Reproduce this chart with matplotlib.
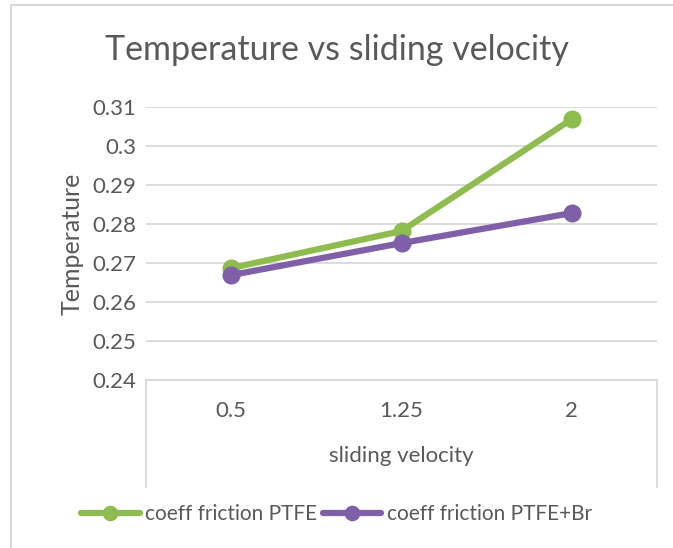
# Temperature vs sliding velocity: line chart in Excel style

import matplotlib

matplotlib.use("Agg")
import matplotlib.pyplot as plt
from matplotlib.lines import Line2D

velocity_labels = ["0.5", "1.25", "2"]
ptfe_values = [0.2687, 0.2782, 0.3069]
ptfe_br_values = [0.2669, 0.2751, 0.2828]
y_ticks = [0.24, 0.25, 0.26, 0.27, 0.28, 0.29, 0.30, 0.31]
y_tick_labels = ["0.24", "0.25", "0.26", "0.27", "0.28", "0.29", "0.3", "0.31"]

GREEN = "#8fbc4f"
PURPLE = "#7f5fa8"
TEXT = "#595959"
GRID = "#d9d9d9"

plt.rcParams["font.family"] = ["Lato", "DejaVu Sans"]

W, H = 673, 548
fig = plt.figure(figsize=(W / 100, H / 100), dpi=100)

# plot area in pixels: left 146, right 657, top 107, bottom 380
left, right, top, bottom = 146, 657, 107, 380
ax = fig.add_axes([left / W, 1 - bottom / H, (right - left) / W, (bottom - top) / H])

x = list(range(len(velocity_labels)))
ax.plot(x, ptfe_values, color=GREEN, lw=4.5, marker="o", ms=12,
        solid_capstyle="round", label="coeff friction PTFE", zorder=3)
ax.plot(x, ptfe_br_values, color=PURPLE, lw=4.5, marker="o", ms=12,
        solid_capstyle="round", label="coeff friction PTFE+Br", zorder=4)

ax.set_xlim(-0.5, 2.5)
ax.set_ylim(0.24, 0.31)
ax.set_yticks(y_ticks)
ax.set_yticklabels(y_tick_labels)
ax.set_xticks(x)
ax.set_xticklabels(velocity_labels)

ax.grid(axis="y", color=GRID, lw=1.3)
ax.set_axisbelow(True)
for side in ["top", "right", "left"]:
    ax.spines[side].set_visible(False)
ax.spines["bottom"].set_color(GRID)
ax.spines["bottom"].set_linewidth(1.3)

ax.tick_params(axis="y", length=0, pad=7, labelsize=16, labelcolor=TEXT)
ax.tick_params(axis="x", length=0, pad=15, labelsize=16, labelcolor=TEXT)

# category axis box: vertical edges hanging below the plot area
box_depth = (487 - bottom) / (bottom - top)
for xe in [0, 1]:
    ax.add_line(Line2D([xe, xe], [0, -box_depth], transform=ax.transAxes,
                       color=GRID, lw=1.3, clip_on=False))

ax.set_xlabel("sliding velocity", fontsize=16, color=TEXT, labelpad=18)
ax.set_ylabel("Temperature", fontsize=18, color=TEXT, labelpad=6)

fig.text(0.5, 1 - 50 / H, "Temperature vs sliding velocity", ha="center",
         va="center", fontsize=24.5, color=TEXT)

# outer chart border (left and top edges visible in the crop)
fig.add_artist(Line2D([11 / W, 11 / W], [0, 1 - 5 / H], transform=fig.transFigure,
                      color=GRID, lw=1.5))
fig.add_artist(Line2D([11 / W, 1], [1 - 5 / H, 1 - 5 / H], transform=fig.transFigure,
                      color=GRID, lw=1.5))

fig.legend(loc="center", bbox_to_anchor=(0.5, 1 - 514 / H), ncol=2, frameon=False,
           fontsize=15, labelcolor=TEXT, handlelength=2.8, handletextpad=0.25,
           columnspacing=0.3, markerscale=0.85)

fig.savefig("out.png", dpi=100, facecolor="white")
